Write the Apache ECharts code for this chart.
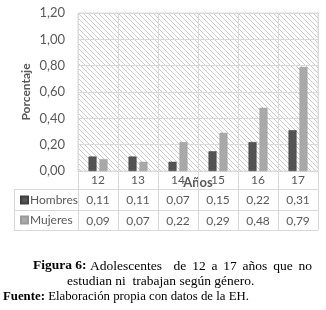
<!DOCTYPE html>
<html>
<head>
<meta charset="utf-8">
<script src="https://cdn.jsdelivr.net/npm/echarts@6/dist/echarts.min.js"></script>
<style>
  html, body { margin: 0; padding: 0; background: #fff; }
  #chart { width: 326px; height: 310px; }
</style>
</head>
<body>
<div id="chart"></div>
<script>
// datos
const edades = ["12", "13", "14", "15", "16", "17"];
const hombres = [0.11, 0.11, 0.07, 0.15, 0.22, 0.31];
const mujeres = [0.09, 0.07, 0.22, 0.29, 0.48, 0.79];
const yTicks = [0, 1.2, 0.2]; // min, max, interval

const gris = "#595959";
const linea = "#d9d9d9";
const serif = "Liberation Serif";
const fmt = (v) => v.toFixed(2).replace(".", ",");

// trama diagonal del fondo
const makeHatch = () => {
	const c = document.createElement("canvas");
	c.width = 5;
	c.height = 5;
	const ctx = c.getContext("2d");
	ctx.strokeStyle = "#cbcbcb";
	ctx.lineWidth = 1;
	ctx.beginPath();
	ctx.moveTo(-1, -1);
	ctx.lineTo(6, 6);
	ctx.moveTo(-1, 4);
	ctx.lineTo(1, 6);
	ctx.moveTo(4, -1);
	ctx.lineTo(6, 1);
	ctx.stroke();
	return c;
};

// primera línea del pie justificada: se mide el texto para repartir los espacios
const linea1 = ["Adolescentes", "de", "12", "a", "17", "años", "que", "no"];
const anchoLinea1 = 279;
const fontSizeCap = 13.5;
const measure = (txt, font) => {
	const ctx = document.createElement("canvas").getContext("2d");
	ctx.font = font;
	return ctx.measureText(txt).width;
};
const wBold = measure("Figura 6: ", `bold ${fontSizeCap}px '${serif}'`);
const wWords = linea1.reduce((s, w) => s + measure(w, `${fontSizeCap}px '${serif}'`), 0);
const gap = (anchoLinea1 - wBold - wWords) / (linea1.length); // el primer hueco es doble
const textoLinea1 =
	"{b|Figura 6: }" + linea1[0] + "{g2|}" + linea1.slice(1).map((w) => "{n|" + w + "}").join("{g|}");

const chart = echarts.init(document.getElementById("chart"));

const tableAxis = (offset, values) => ({
	type: "category",
	data: edades,
	position: "bottom",
	offset,
	axisLine: { show: true, lineStyle: { color: linea } },
	axisTick: { show: false },
	axisLabel: values
		? { margin: 5, color: gris, fontFamily: "Lato", fontSize: 12, formatter: (v, i) => fmt(values[i]) }
		: { show: false },
	splitLine: { show: false },
});

const option = {
	animation: false,
	backgroundColor: "#fff",
	legend: {
		data: ["Hombres", "Mujeres"],
		orient: "vertical",
		left: 20,
		top: 194,
		padding: 0,
		icon: "rect",
		itemWidth: 7,
		itemHeight: 7,
		itemGap: 8,
		selectedMode: false,
		textStyle: { color: gris, fontFamily: "Lato", fontSize: 12, padding: [0, 0, 0, -3] },
	},
	grid: {
		left: 78,
		right: 8,
		top: 13,
		bottom: 139,
		show: true,
		backgroundColor: { image: makeHatch(), repeat: "repeat" },
		borderColor: linea,
		borderWidth: 1,
	},
	xAxis: [
		{
			type: "category",
			data: edades,
			position: "bottom",
			name: "Años",
			nameLocation: "middle",
			nameGap: 5,
			nameMoveOverlap: false,
			nameTextStyle: { color: gris, fontFamily: "Lato", fontSize: 13, fontWeight: "bold" },
			axisLine: { show: true, lineStyle: { color: linea } },
			axisTick: { show: true, interval: 0, length: 59, lineStyle: { color: linea } },
			axisLabel: { margin: 3, color: gris, fontFamily: "Lato", fontSize: 12 },
			splitLine: { show: true, interval: 0, lineStyle: { color: linea } },
		},
		tableAxis(18, hombres),
		tableAxis(39, mujeres),
		tableAxis(59, null),
	],
	yAxis: {
		type: "value",
		min: yTicks[0],
		max: yTicks[1],
		interval: yTicks[2],
		name: "Porcentaje",
		nameLocation: "middle",
		nameGap: 46,
		nameMoveOverlap: false,
		nameTextStyle: { color: gris, fontFamily: "Lato", fontSize: 12, fontWeight: "bold" },
		axisLine: { show: false },
		axisTick: { show: false },
		axisLabel: { margin: 13, color: gris, fontFamily: "Lato", fontSize: 13, formatter: (v) => fmt(v) },
		splitLine: { show: true, lineStyle: { color: linea } },
	},
	series: [
		{
			name: "Hombres",
			type: "bar",
			xAxisIndex: 0,
			data: hombres,
			barWidth: 8,
			barGap: "37%",
			itemStyle: { color: "#545454", borderColor: "#3f3f3f", borderWidth: 0.5 },
		},
		{
			name: "Mujeres",
			type: "bar",
			xAxisIndex: 0,
			data: mujeres,
			barWidth: 8,
			itemStyle: { color: "#a9a9a9", borderColor: "#9a9a9a", borderWidth: 0.5 },
		},
	],
	graphic: [
		// bordes de la columna de leyenda de la tabla
		{ type: "line", shape: { x1: 14, y1: 189.5, x2: 78, y2: 189.5 }, style: { stroke: linea, lineWidth: 1 } },
		{ type: "line", shape: { x1: 14, y1: 210.5, x2: 78, y2: 210.5 }, style: { stroke: linea, lineWidth: 1 } },
		{ type: "line", shape: { x1: 14, y1: 230.5, x2: 78, y2: 230.5 }, style: { stroke: linea, lineWidth: 1 } },
		{ type: "line", shape: { x1: 14.5, y1: 189, x2: 14.5, y2: 231 }, style: { stroke: linea, lineWidth: 1 } },
		// pie de figura
		{
			type: "text",
			x: 33,
			y: 266,
			style: {
				text: textoLinea1,
				fill: "#000",
				font: `${fontSizeCap}px '${serif}'`,
				verticalAlign: "middle",
				rich: {
					b: { fontFamily: serif, fontSize: fontSizeCap, fontWeight: "bold", fill: "#000" },
					n: { fontFamily: serif, fontSize: fontSizeCap, fill: "#000" },
					g: { width: gap },
					g2: { width: gap * 2 },
				},
			},
		},
		{
			type: "text",
			x: 67,
			y: 281,
			style: {
				text: "estudian ni  trabajan según género.",
				fill: "#000",
				font: `${fontSizeCap}px '${serif}'`,
				verticalAlign: "middle",
			},
		},
		{
			type: "text",
			x: 3,
			y: 297,
			style: {
				text: "{b|Fuente:} Elaboración propia con datos de la EH.",
				fill: "#000",
				font: `12.8px '${serif}'`,
				verticalAlign: "middle",
				rich: { b: { fontFamily: serif, fontSize: 12.8, fontWeight: "bold", fill: "#000" } },
			},
		},
	],
};

chart.setOption(option);
</script>
</body>
</html>
